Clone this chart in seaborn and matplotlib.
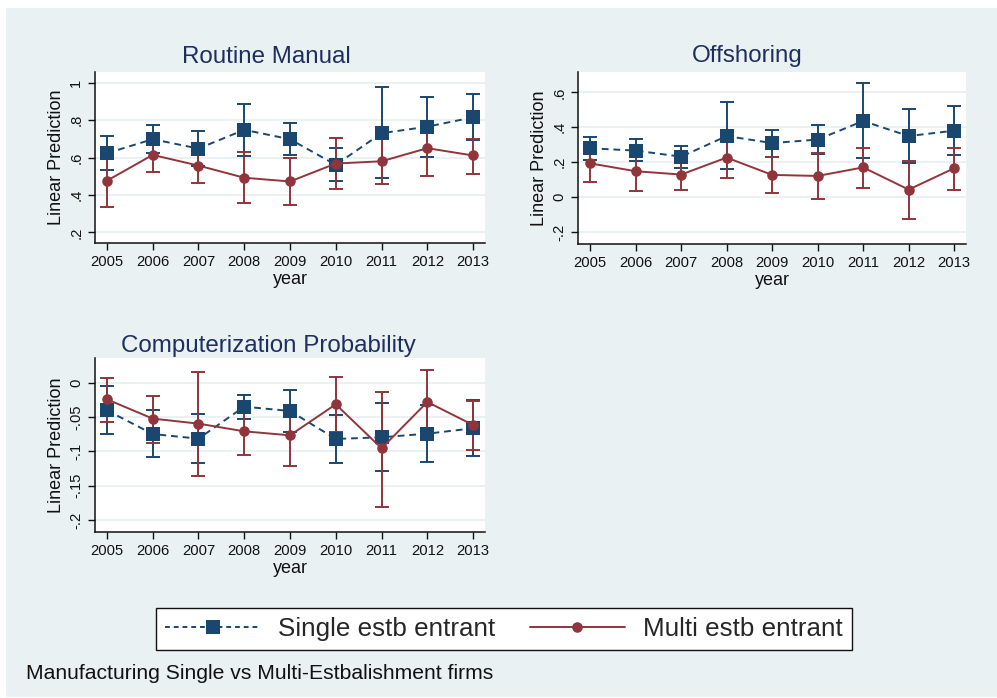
import matplotlib
matplotlib.use("Agg")
import matplotlib.pyplot as plt
from matplotlib.lines import Line2D
from matplotlib.patches import Rectangle
from matplotlib.ticker import FixedLocator, FixedFormatter
import pandas as pd
import seaborn as sns

# ---------------------------------------------------------------- data
years = [2005, 2006, 2007, 2008, 2009, 2010, 2011, 2012, 2013]
groups = ["Single estb entrant", "Multi estb entrant"]

# Routine Manual
rm_single = [0.623, 0.698, 0.648, 0.748, 0.698, 0.561, 0.730, 0.765, 0.815]
rm_single_lo = [0.531, 0.622, 0.555, 0.606, 0.611, 0.477, 0.490, 0.602, 0.694]
rm_single_hi = [0.716, 0.774, 0.742, 0.888, 0.787, 0.652, 0.977, 0.925, 0.938]
rm_multi = [0.476, 0.614, 0.557, 0.492, 0.472, 0.568, 0.580, 0.650, 0.611]
rm_multi_lo = [0.337, 0.522, 0.463, 0.355, 0.346, 0.431, 0.460, 0.499, 0.513]
rm_multi_hi = [0.615, 0.706, 0.651, 0.627, 0.595, 0.703, 0.700, 0.792, 0.700]

# Offshoring
off_single = [0.280, 0.267, 0.232, 0.350, 0.310, 0.330, 0.436, 0.350, 0.381]
off_single_lo = [0.213, 0.209, 0.166, 0.160, 0.229, 0.246, 0.223, 0.194, 0.242]
off_single_hi = [0.347, 0.331, 0.293, 0.547, 0.387, 0.413, 0.655, 0.507, 0.520]
off_multi = [0.194, 0.149, 0.130, 0.227, 0.128, 0.122, 0.171, 0.044, 0.166]
off_multi_lo = [0.090, 0.034, 0.042, 0.110, 0.023, -0.011, 0.055, -0.126, 0.040]
off_multi_hi = [0.298, 0.264, 0.218, 0.344, 0.229, 0.252, 0.282, 0.210, 0.280]

# Computerization Probability
cp_single = [-0.0403, -0.0748, -0.0816, -0.0350, -0.0413, -0.0820, -0.0796, -0.0743, -0.0665]
cp_single_lo = [-0.0752, -0.1087, -0.1175, -0.0524, -0.0724, -0.1165, -0.1286, -0.1150, -0.1068]
cp_single_hi = [-0.0044, -0.0403, -0.0456, -0.0175, -0.0102, -0.0470, -0.0301, -0.0325, -0.0252]
cp_multi = [-0.0243, -0.0524, -0.0597, -0.0709, -0.0767, -0.0316, -0.0956, -0.0282, -0.0617]
cp_multi_lo = [-0.0568, -0.0883, -0.1359, -0.1049, -0.1214, -0.0714, -0.1816, -0.0748, -0.0981]
cp_multi_hi = [0.0073, -0.0189, 0.0155, -0.0369, -0.0340, 0.0087, -0.0136, 0.0184, -0.0262]

rm_ticks = [0.2, 0.4, 0.6, 0.8, 1.0]
rm_ticklabels = [".2", ".4", ".6", ".8", "1"]
off_ticks = [-0.2, 0.0, 0.2, 0.4, 0.6]
off_ticklabels = ["-.2", "0", ".2", ".4", ".6"]
cp_ticks = [-0.2, -0.15, -0.1, -0.05, 0.0]
cp_ticklabels = ["-.2", "-.15", "-.1", "-.05", "0"]

# ---------------------------------------------------------------- style
BG = "#e9f1f3"
NAVY = "#1a476f"
MAROON = "#90353b"
TITLE_C = "#1e2f5e"
palette = {groups[0]: NAVY, groups[1]: MAROON}

sns.set_theme(style="white")
plt.rcParams["font.family"] = ["Liberation Sans", "DejaVu Sans"]
plt.rcParams["axes.edgecolor"] = "#111111"

W, H = 997, 698
fig = plt.figure(figsize=(W / 100, H / 100), dpi=100, facecolor="white")
fig.patches.append(Rectangle((6 / W, 1 / H), 1 - 6 / W, 1 - 9 / H,
                             transform=fig.transFigure, facecolor=BG,
                             edgecolor="none", zorder=-10))


def axes_px(left, top, right, bottom):
    return fig.add_axes([left / W, 1 - bottom / H, (right - left) / W, (bottom - top) / H])


def panel(ax, single, s_lo, s_hi, multi, m_lo, m_hi, ylim, ticks, ticklabels):
    # confidence intervals
    for est, lo, hi, col in ((single, s_lo, s_hi, NAVY), (multi, m_lo, m_hi, MAROON)):
        yerr = [[e - l for e, l in zip(est, lo)], [h - e for e, h in zip(est, hi)]]
        ax.errorbar(years, est, yerr=yerr, fmt="none", ecolor=col,
                    elinewidth=1.4, capsize=4.7, capthick=1.4)
    # point estimates
    df = pd.DataFrame({
        "year": years * 2,
        "pred": list(single) + list(multi),
        "group": [groups[0]] * len(years) + [groups[1]] * len(years),
    })
    sns.lineplot(data=df, x="year", y="pred", hue="group", style="group",
                 hue_order=groups, style_order=groups, palette=palette,
                 markers={groups[0]: "s", groups[1]: "o"},
                 dashes={groups[0]: (3.5, 2.5), groups[1]: ""},
                 linewidth=1.4, markeredgewidth=0, legend=False, ax=ax)
    for ln in ax.get_lines():
        if ln.get_marker() == "s":
            ln.set_markersize(9.4)
        elif ln.get_marker() == "o":
            ln.set_markersize(7.6)

    ax.set_facecolor("white")
    ax.set_xlim(2004.74, 2013.26)
    ax.set_ylim(*ylim)
    ax.set_xticks(years)
    ax.set_xticklabels([str(y) for y in years])
    ax.yaxis.set_major_locator(FixedLocator(ticks))
    ax.yaxis.set_major_formatter(FixedFormatter(ticklabels))
    for t in ax.get_yticklabels():
        t.set_rotation(90)
        t.set_va("center")
    ax.grid(False)
    for t in ticks:
        ax.axhline(t, color=BG, lw=1.4, zorder=0)
    for side in ("top", "right"):
        ax.spines[side].set_visible(False)
    for side in ("left", "bottom"):
        ax.spines[side].set_linewidth(1.1)
    ax.tick_params(axis="both", which="major", length=5, width=1.0,
                   color="#111111", labelsize=10.6, labelcolor="#111111",
                   left=True, bottom=True)
    ax.tick_params(axis="y", pad=3.5)
    ax.tick_params(axis="x", pad=3.5)
    ax.set_xlabel("year", fontsize=13, color="#111111", labelpad=1.5)
    ax.set_ylabel("Linear Prediction", fontsize=13, color="#111111", labelpad=3)


ax1 = axes_px(95, 71.7, 485, 243)
panel(ax1, rm_single, rm_single_lo, rm_single_hi, rm_multi, rm_multi_lo, rm_multi_hi,
      (0.143, 1.059), rm_ticks, rm_ticklabels)

ax2 = axes_px(578.3, 71.7, 966, 244)
panel(ax2, off_single, off_single_lo, off_single_hi, off_multi, off_multi_lo, off_multi_hi,
      (-0.267, 0.718), off_ticks, off_ticklabels)

ax3 = axes_px(95, 358.3, 485, 531.7)
panel(ax3, cp_single, cp_single_lo, cp_single_hi, cp_multi, cp_multi_lo, cp_multi_hi,
      (-0.217, 0.0354), cp_ticks, cp_ticklabels)

# panel titles
fig.text(266 / W, 1 - 63.3 / H, "Routine Manual", ha="center", va="baseline",
         fontsize=17.4, color=TITLE_C)
fig.text(747.5 / W, 1 - 62.3 / H, "Offshoring", ha="center", va="baseline",
         fontsize=17.4, color=TITLE_C)
fig.text(268.3 / W, 1 - 352.3 / H, "Computerization Probability", ha="center",
         va="baseline", fontsize=17.4, color=TITLE_C)

# shared legend
handles = [
    Line2D([], [], color=NAVY, lw=1.4, dashes=(2.5, 2.0), marker="s",
           markersize=9.4, markeredgewidth=0),
    Line2D([], [], color=MAROON, lw=1.4, marker="o", markersize=7.6,
           markeredgewidth=0),
]
leg = fig.legend(handles, groups, loc="center", bbox_to_anchor=(504 / W, 1 - 629 / H),
                 ncol=2, fontsize=18.7, frameon=True, fancybox=False,
                 handlelength=3.66, handletextpad=0.7, columnspacing=1.32,
                 borderpad=0.35, numpoints=1)
frame = leg.get_frame()
frame.set_edgecolor("#111111")
frame.set_linewidth(1.0)
frame.set_facecolor("white")
frame.set_alpha(1.0)

# note
fig.text(26 / W, 1 - 679.3 / H, "Manufacturing Single vs Multi-Estbalishment firms",
         ha="left", va="baseline", fontsize=15.2, color="#111111")

fig.savefig("out.png", dpi=100, facecolor=fig.get_facecolor())
